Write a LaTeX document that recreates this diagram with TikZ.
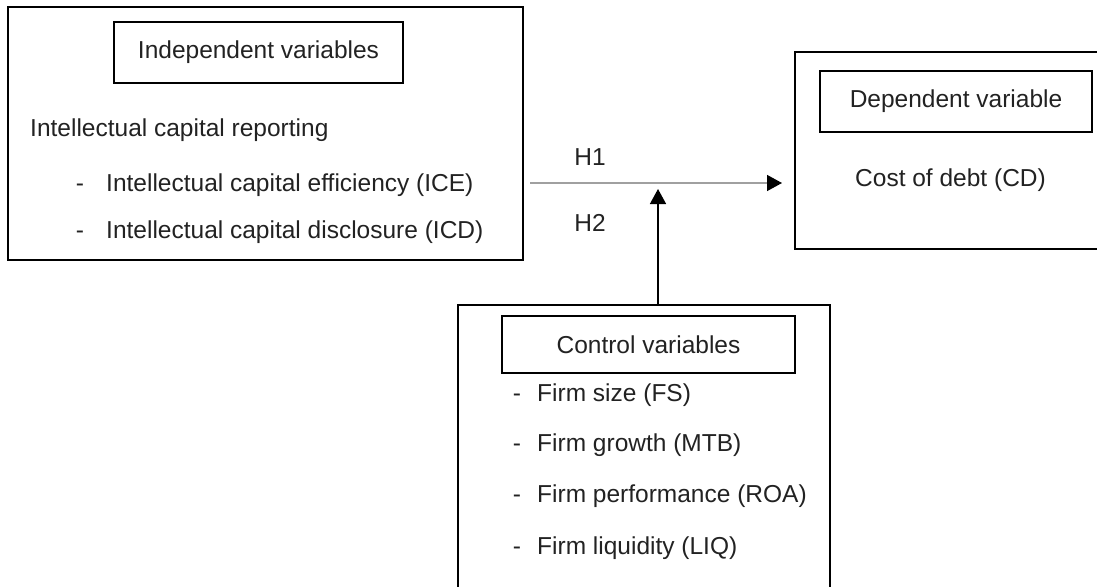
\documentclass[tikz,border=0pt]{standalone}
\usepackage{fontspec}
\setmainfont{Liberation Sans}
\usetikzlibrary{arrows.meta}
\definecolor{ink}{HTML}{222222}
\definecolor{linkgray}{HTML}{A0A0A0}
\tikzset{
  outerbox/.style={draw=black, line width=2pt, rectangle, inner sep=0pt},
  titlebox/.style={draw=black, line width=1.5pt, rectangle, inner sep=0pt,
    font=\fontsize{24.5}{29}\selectfont, text=ink},
  label/.style={inner sep=0pt, font=\fontsize{24.5}{29}\selectfont, text=ink},
  bullet/.style={label, anchor=base},
  bigtip/.style={-{Triangle[length=15pt,width=16pt,color=black]}},
}
\begin{document}
\begin{tikzpicture}[x=1pt, y=-1pt]
  \useasboundingbox (0,0) rectangle (1097,586);
  \clip (0,0) rectangle (1097,586);

  % outer frames
  \node[outerbox, minimum width=515pt, minimum height=253pt] (indep) at (265.5,133.5) {};
  \node[outerbox, minimum width=315pt, minimum height=197pt] (dep) at (952.5,150.5) {};
  \node[outerbox, minimum width=372pt, minimum height=295pt] (ctrl) at (644,452.5) {};

  % headings
  \node[titlebox, minimum width=289pt, minimum height=61pt] (indeptitle) at (258.5,52.5) {Independent variables};
  \node[titlebox, minimum width=272pt, minimum height=61pt] (deptitle) at (956,101.5) {Dependent variable};
  \node[titlebox, minimum width=293pt, minimum height=57pt] (ctrltitle) at (648.5,344.5) {Control variables};

  % columns of the list dashes
  \coordinate (leftdash) at (80,0);
  \coordinate (ctrldash) at (517,0);

  % independent variables
  \node[label, anchor=west] (icr) at (30,130) {Intellectual capital reporting};
  \node[label, anchor=west] (ice) at (106,185) {Intellectual capital efficiency (ICE)};
  \node[label, anchor=west] (icd) at (106,232) {Intellectual capital disclosure (ICD)};
  \node[bullet] (dash1) at (ice.base -| leftdash) {-};
  \node[bullet] (dash2) at (icd.base -| leftdash) {-};

  % dependent variable
  \node[label, anchor=west] (cd) at (855,180) {Cost of debt (CD)};

  % control variables
  \node[label, anchor=west] (fs) at (537,395) {Firm size (FS)};
  \node[label, anchor=west] (mtb) at (537,445) {Firm growth (MTB)};
  \node[label, anchor=west] (roa) at (537,496) {Firm performance (ROA)};
  \node[label, anchor=west] (liq) at (537,548) {Firm liquidity (LIQ)};
  \node[bullet] (dash3) at (fs.base -| ctrldash) {-};
  \node[bullet] (dash4) at (mtb.base -| ctrldash) {-};
  \node[bullet] (dash5) at (roa.base -| ctrldash) {-};
  \node[bullet] (dash6) at (liq.base -| ctrldash) {-};

  % hypotheses
  \node[label] (h1) at (590,157) {H1};
  \node[label] (h2) at (590,223) {H2};

  % links
  \coordinate (linkstart) at (530,183);
  \coordinate (modtip) at (658,189);
  \draw[linkgray, line width=1.5pt, bigtip, shorten >=12pt] (linkstart) -- (linkstart -| dep.west);
  \draw[black, line width=1.5pt, bigtip] (ctrl.north -| modtip) -- (modtip);
\end{tikzpicture}
\end{document}
